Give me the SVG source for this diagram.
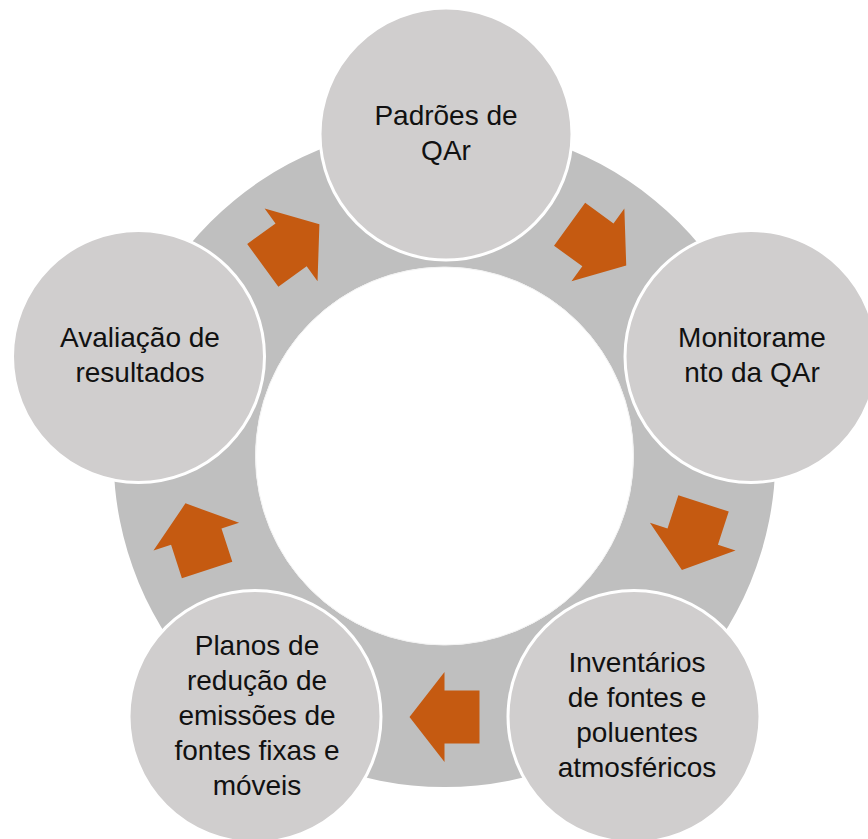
<svg xmlns="http://www.w3.org/2000/svg" width="868" height="839" viewBox="0 0 868 839">
<defs>
<style>
.node circle{fill:#D0CECE;stroke:#FFFFFF;stroke-width:3}
.node text{font-family:"Liberation Sans",Arial,sans-serif;font-size:28px;fill:#111111;text-anchor:middle}
.arrow{fill:#C55A11}
</style>
<polygon id="arr" points="-35,-26.5 0,-26.5 0,-45 35,0 0,45 0,26.5 -35,26.5"/>
</defs>
<rect width="868" height="839" fill="#FFFFFF"/>
<path d="M444.5,125 A331,331 0 1,1 444.5,787 A331,331 0 1,1 444.5,125 Z M444.5,267 A189,189 0 1,0 444.5,645 A189,189 0 1,0 444.5,267 Z" fill="#BFBFBF" fill-rule="evenodd"/>
<circle cx="444.5" cy="456" r="189" fill="#FFFFFF" stroke="#F2F2F2" stroke-width="1"/>
<g id="connectors" class="arrow">
<use href="#arr" transform="translate(444.5,456) rotate(-54) translate(261,0) rotate(90)"/>
<use href="#arr" transform="translate(444.5,456) rotate(18) translate(261,0) rotate(90)"/>
<use href="#arr" transform="translate(444.5,456) rotate(90) translate(261,0) rotate(90)"/>
<use href="#arr" transform="translate(444.5,456) rotate(162) translate(261,0) rotate(90)"/>
<use href="#arr" transform="translate(444.5,456) rotate(234) translate(261,0) rotate(90)"/>
</g>
<g id="node1" class="node">
<circle cx="446" cy="134" r="126"/>
<text x="446" y="125">Padrões de</text>
<text x="446" y="160">QAr</text>
</g>
<g id="node2" class="node">
<circle cx="751" cy="356.5" r="126"/>
<text x="752" y="347">Monitorame</text>
<text x="752" y="382">nto da QAr</text>
</g>
<g id="node3" class="node">
<circle cx="634" cy="716.5" r="126"/>
<text x="637" y="672">Inventários</text>
<text x="637" y="707">de fontes e</text>
<text x="637" y="742">poluentes</text>
<text x="637" y="777">atmosféricos</text>
</g>
<g id="node4" class="node">
<circle cx="255" cy="716.5" r="126"/>
<text x="257" y="655">Planos de</text>
<text x="257" y="690">redução de</text>
<text x="257" y="725">emissões de</text>
<text x="257" y="760">fontes fixas e</text>
<text x="257" y="795">móveis</text>
</g>
<g id="node5" class="node">
<circle cx="138.5" cy="356.5" r="126"/>
<text x="140" y="347">Avaliação de</text>
<text x="140" y="382">resultados</text>
</g>
</svg>
